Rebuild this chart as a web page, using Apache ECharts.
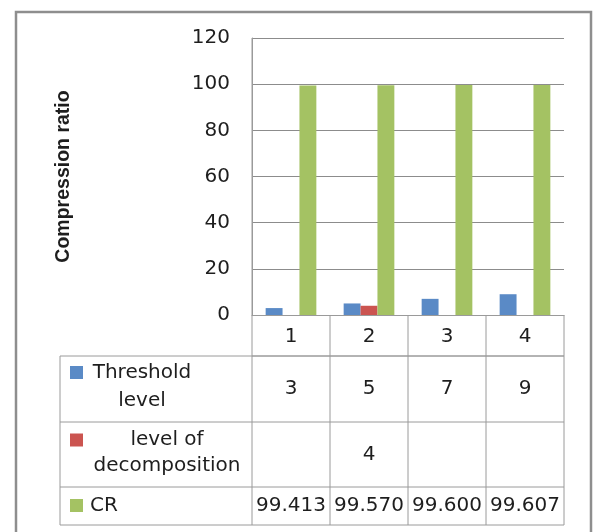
<!DOCTYPE html>
<html>
<head>
<meta charset="utf-8">
<script src="https://cdn.jsdelivr.net/npm/echarts@6/dist/echarts.min.js"></script>
<style>
  html, body { margin: 0; padding: 0; background: #fff; }
  #chart { width: 595px; height: 532px; }
</style>
</head>
<body>
<div id="chart"></div>
<script>
// Categories and series values
const categories = ['1', '2', '3', '4'];
const thresholdLevel = [3, 5, 7, 9];
const decompositionLevel = [null, 4, null, null];
const crValues = [99.413, 99.570, 99.600, 99.607];

const seriesNames = ['Threshold level', 'level of decomposition', 'CR'];
const rowLabels = ['Threshold\nlevel', 'level of\ndecomposition', 'CR'];
const valueDecimals = [0, 0, 3];

const yMin = 0, yMax = 120, yStep = 20;

const colors = ['#5A8AC6', '#CB5450', '#A4C263'];
const FONT = '"DejaVu Sans", sans-serif';
const textColor = '#1e1e1e';
const lineColor = '#9a9a9a';

const chart = echarts.init(document.getElementById('chart'), null, { renderer: 'canvas' });

const seriesData = [thresholdLevel, decompositionLevel, crValues];

chart.setOption({
  animation: false,
  backgroundColor: '#fff',
  color: colors,
  grid: { left: 252, right: 31, top: 38, bottom: 217, containLabel: false },
  xAxis: {
    type: 'category',
    data: categories,
    axisLine: { show: true, lineStyle: { color: lineColor, width: 1 } },
    axisTick: { show: false },
    axisLabel: { show: false },
    splitLine: { show: false }
  },
  yAxis: {
    type: 'value',
    min: yMin, max: yMax, interval: yStep,
    name: 'Compression ratio',
    nameLocation: 'middle',
    nameRotate: 90,
    nameGap: 178,
    nameTextStyle: { fontFamily: '"Liberation Sans", Arial, sans-serif', fontSize: 19.5, fontWeight: 'bold', color: textColor },
    axisLine: { show: true, lineStyle: { color: lineColor, width: 1 } },
    axisTick: { show: false },
    axisLabel: { margin: 22, fontFamily: FONT, fontSize: 20, color: textColor },
    splitLine: { show: true, lineStyle: { color: '#8c8c8c', width: 1 } }
  },
  series: seriesNames.map((name, i) => ({
    name: name,
    type: 'bar',
    data: seriesData[i],
    barGap: '0%',
    barCategoryGap: '35%',
    itemStyle: { color: colors[i] }
  }))
});

// Data table under the plot, laid out from the category axis positions
(function buildTable() {
  const centers = categories.map(c => chart.convertToPixel({ xAxisIndex: 0 }, c));
  const band = centers.length > 1 ? centers[1] - centers[0] : 78;
  const x0 = centers[0] - band / 2;
  const xEnd = centers[centers.length - 1] + band / 2;
  const yTop = chart.convertToPixel({ yAxisIndex: 0 }, yMin);
  const yAxisTop = chart.convertToPixel({ yAxisIndex: 0 }, yMax);

  const tableLeft = 60;
  const rowBounds = [yTop, yTop + 41, yTop + 107, yTop + 172, yTop + 210];
  const g = [];
  const line = (x1, y1, x2, y2) => g.push({
    type: 'line', silent: true,
    shape: { x1: x1, y1: y1, x2: x2, y2: y2 },
    style: { stroke: lineColor, lineWidth: 1 }
  });
  const text = (x, y, str, align, lh) => g.push({
    type: 'text', silent: true, x: x, y: y,
    style: {
      text: str, fill: textColor, font: '20px ' + FONT,
      align: align || 'center', verticalAlign: 'middle', lineHeight: lh || 24
    }
  });

  // horizontal rules
  line(x0, rowBounds[1], xEnd, rowBounds[1]);
  line(tableLeft, rowBounds[1], xEnd, rowBounds[1]);
  for (let r = 2; r < rowBounds.length; r++) line(tableLeft, rowBounds[r], xEnd, rowBounds[r]);
  // vertical rules
  line(tableLeft, rowBounds[1], tableLeft, rowBounds[4]);
  line(x0, yAxisTop, x0, rowBounds[4]);
  for (let i = 1; i <= categories.length; i++) {
    const x = x0 + i * band;
    line(x, rowBounds[0], x, rowBounds[4]);
  }

  // category header row
  categories.forEach((c, i) => text(centers[i], (rowBounds[0] + rowBounds[1]) / 2 + 1, c));

  // series rows: legend key, label and values
  const labelLayout = [
    { x: 142, align: 'center', lh: 28, dy: -2 },
    { x: 167, align: 'center', lh: 26, dy: -2 },
    { x: 90, align: 'left', lh: 24, dy: 0 }
  ];
  const keyOffset = [-23, -21, -7];
  seriesNames.forEach((name, s) => {
    const top = rowBounds[s + 1], bottom = rowBounds[s + 2];
    const mid = (top + bottom) / 2;
    g.push({
      type: 'rect', silent: true,
      shape: { x: 70, y: mid + keyOffset[s], width: 13, height: 13 },
      style: { fill: colors[s] }
    });
    const L = labelLayout[s];
    text(L.x, mid + L.dy, rowLabels[s], L.align, L.lh);
    seriesData[s].forEach((v, i) => {
      if (v === null || v === undefined) return;
      text(centers[i], mid, v.toFixed(valueDecimals[s]));
    });
  });

  // chart frame
  g.push({
    type: 'rect', silent: true,
    shape: { x: 16, y: 12, width: 575, height: 540 },
    style: { fill: 'none', stroke: '#8e8e8e', lineWidth: 2.5 }
  });

  chart.setOption({ graphic: g });
})();
</script>
</body>
</html>
